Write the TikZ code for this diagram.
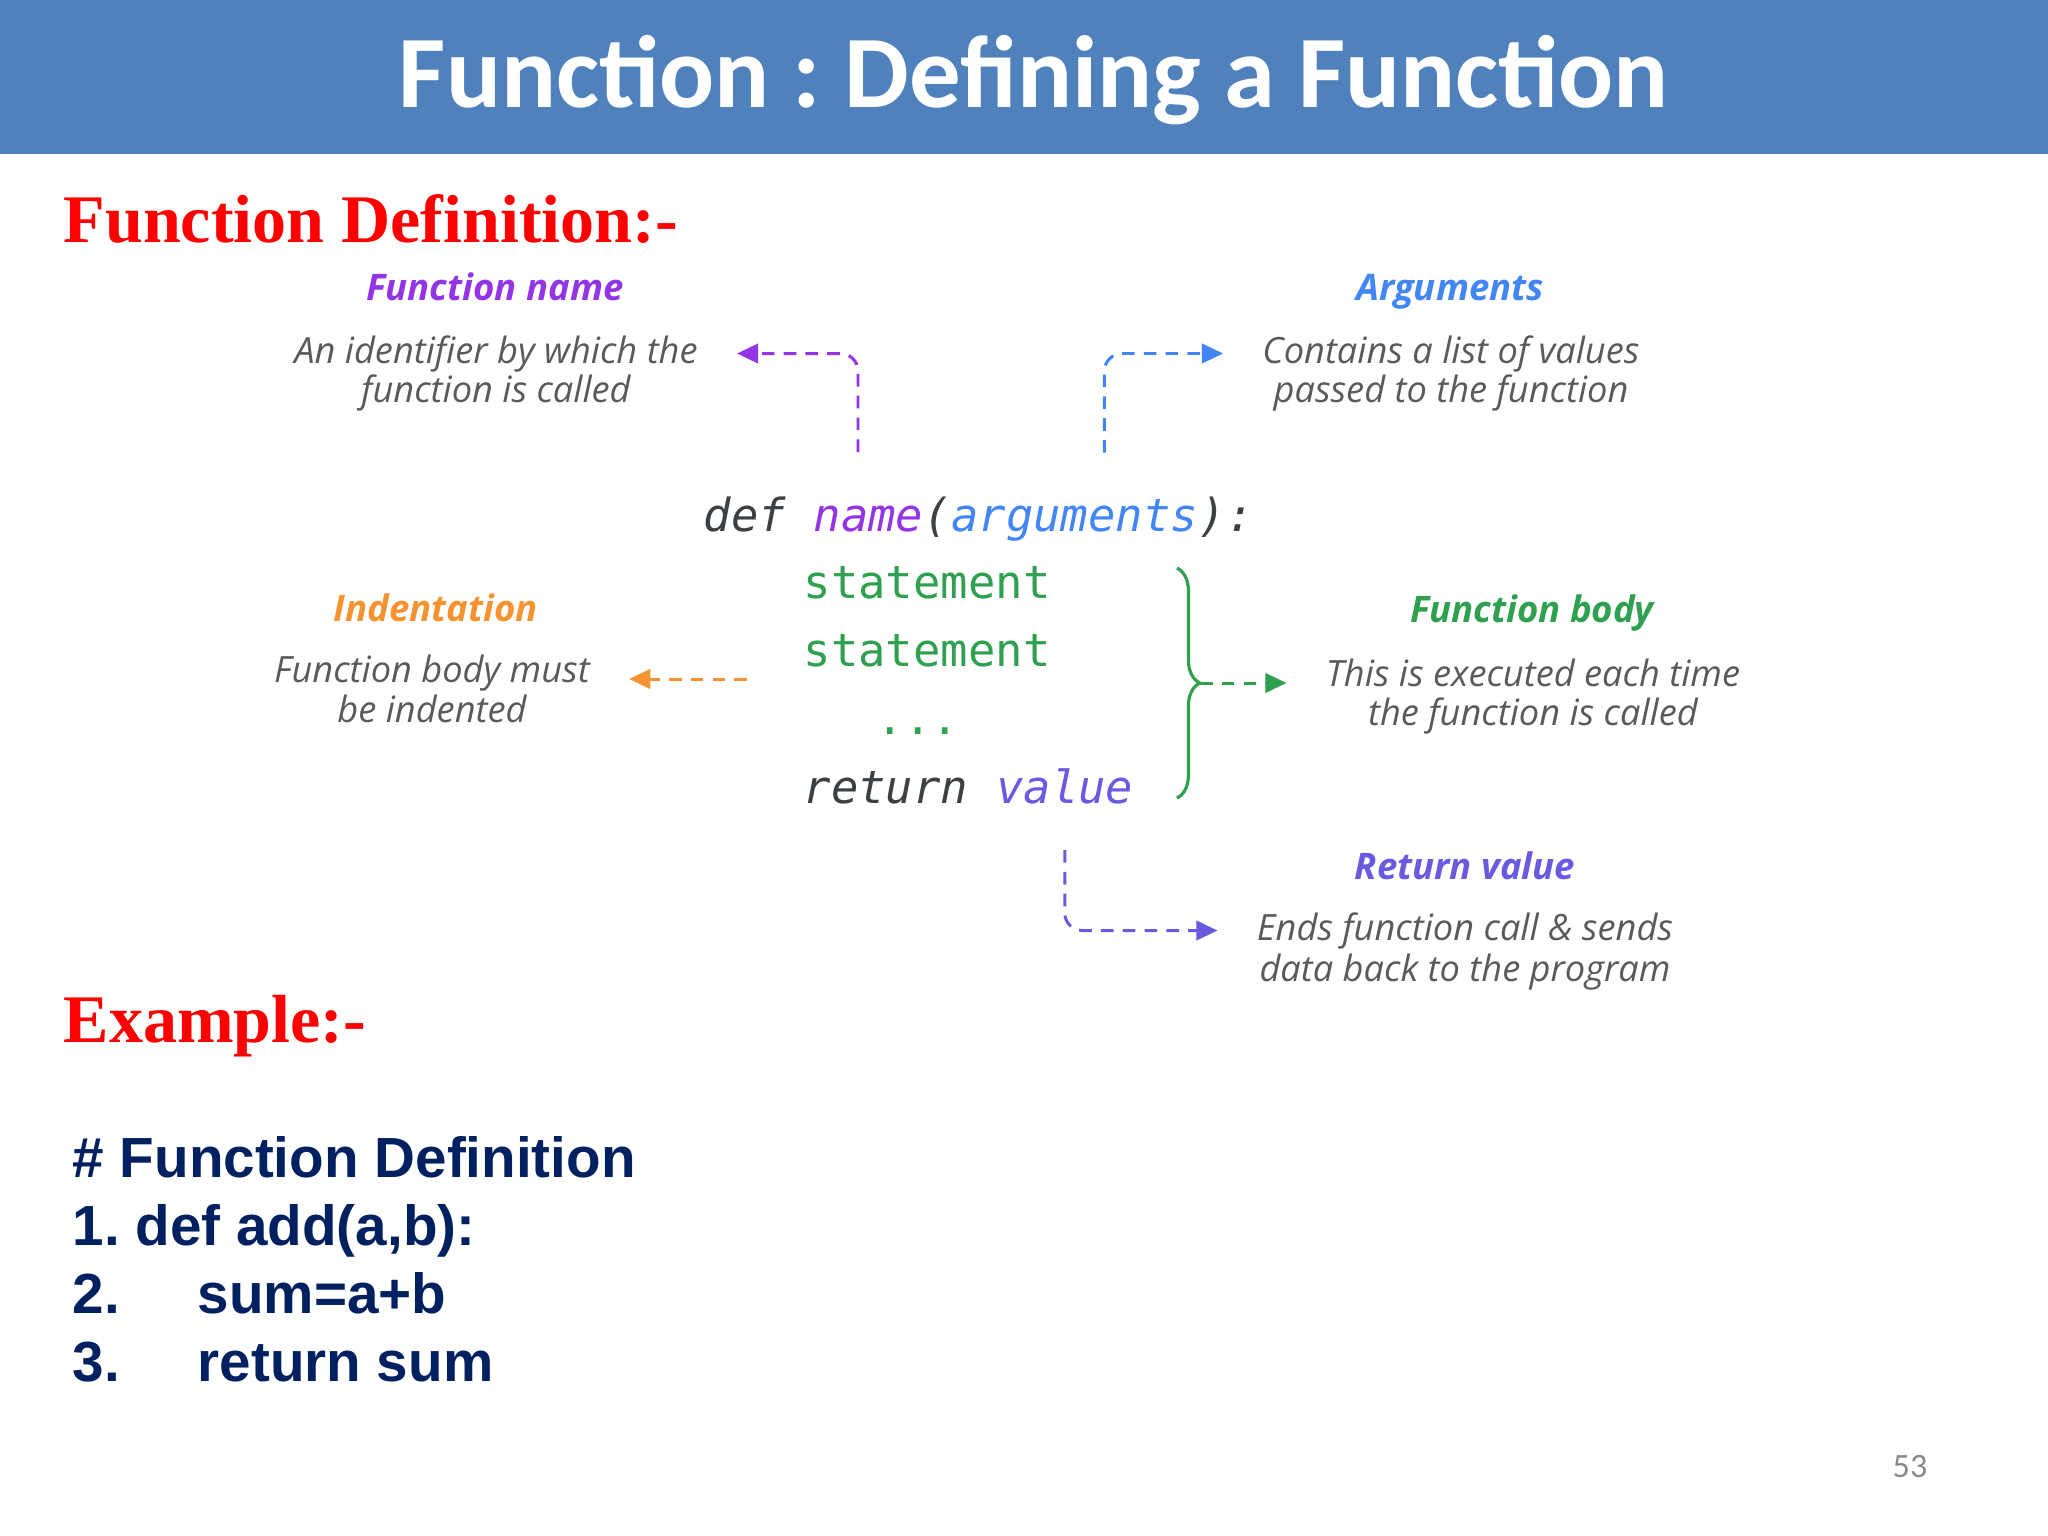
\documentclass[tikz,border=0pt]{standalone}
\usepackage{fontspec}
\setmainfont{Liberation Serif}
\newfontfamily\carlito{Carlito}
\newfontfamily\opensans{Open Sans}
\newfontfamily\arial{Liberation Sans}
\newfontfamily\mono{DejaVu Sans Mono}
\usetikzlibrary{arrows.meta,decorations.pathreplacing}
\frenchspacing

\definecolor{barra}{HTML}{4F81BD}
\definecolor{textogris}{HTML}{5A5A5A}
\definecolor{codgris}{HTML}{3C4043}
\definecolor{morado}{HTML}{9334E6}
\definecolor{azul}{HTML}{4285F4}
\definecolor{naranja}{HTML}{F59331}
\definecolor{verde}{HTML}{2EA04F}
\definecolor{violeta}{HTML}{6A5AE0}
\definecolor{azuloscuro}{HTML}{002060}
\definecolor{numgris}{HTML}{898989}

\begin{document}
\begin{tikzpicture}[x=0.01cm, y=-0.01cm,
    etiqueta/.style={font=\opensans\bfseries\itshape\fontsize{10.4}{12}\selectfont, anchor=base},
    descripcion/.style={font=\opensans\itshape\fontsize{10.3}{12}\selectfont, text=textogris, inner xsep=11pt, inner ysep=1pt, anchor=base},
    codigo/.style={font=\mono\fontsize{12.95}{15}\selectfont, inner sep=0pt, anchor=base west},
    codigocur/.style={codigo, font=\mono\itshape\fontsize{12.95}{15}\selectfont},
    flecha/.style={line width=0.85pt, dash pattern=on 3.6pt off 2.6pt, rounded corners=5pt, -{Triangle[length=6pt,width=5.5pt]}},
    ejemplo/.style={font=\arial\bfseries\fontsize{16.1}{19}\selectfont, text=azuloscuro, inner sep=0pt, anchor=base west},
    encabezado/.style={font=\bfseries\fontsize{19.35}{23}\selectfont, text=red, inner sep=0pt, anchor=base west}]
    \useasboundingbox (0,0) rectangle (2048,1536);

    % Barra del título
    \fill[barra] (0,0) rectangle (2048,154);
    \node[font=\carlito\bfseries\fontsize{29.2}{35}\selectfont, text=white, anchor=base] (titulo) at (1034,107) {Function : Defining a Function};

    % Encabezados
    \node[encabezado] (definicion) at (63,242) {Function Definition:-};
    \node[encabezado] (ejemplotit) at (63,1042) {Example:-};

    % Código
    \node[codigocur, text=codgris] (def) at (703,531) {def};
    \node[codigocur, text=morado] (nombre) at (813,531) {name};
    \node[codigocur, text=codgris] (parabre) at (923,531) {(};
    \node[codigocur, text=azul] (argumentos) at (950.5,531) {arguments};
    \node[codigocur, text=codgris] (parcierra) at (1198,531) {):};
    \node[codigo, text=verde] (sent1) at (803,598) {statement};
    \node[codigo, text=verde] (sent2) at (803,666) {statement};
    \node[codigo, text=verde] (puntos) at (876,734) {...};
    \node[codigocur, text=codgris] (ret) at (803,803) {return};
    \node[codigocur, text=violeta] (valor) at (995.5,803) {value};

    % Etiquetas
    \node[etiqueta, text=morado] (titnombre) at (495,300) {Function name};
    \node[descripcion] (descnombre1) at (496,363) {An identifier by which the};
    \node[descripcion] (descnombre2) at (496,402) {function is called};

    \node[etiqueta, text=azul] (titargs) at (1450,300) {Arguments};
    \node[descripcion] (descargs1) at (1451,363) {Contains a list of values};
    \node[descripcion] (descargs2) at (1451,402) {passed to the function};

    \node[etiqueta, text=naranja] (titindent) at (436,621) {Indentation};
    \node[descripcion] (descindent1) at (432,682) {Function body must};
    \node[descripcion] (descindent2) at (432,722) {be indented};

    \node[etiqueta, text=verde] (titcuerpo) at (1532,622) {Function body};
    \node[descripcion] (desccuerpo1) at (1533,686) {This is executed each time};
    \node[descripcion] (desccuerpo2) at (1533,725) {the function is called};

    \node[etiqueta, text=violeta] (titvalor) at (1465,879) {Return value};
    \node[descripcion] (descvalor1) at (1465,940) {Ends function call \& sends};
    \node[descripcion] (descvalor2) at (1465,981) {data back to the program};

    % Flechas
    \draw[flecha, morado] ([xshift=-3pt,yshift=15pt]nombre.north) |- (descnombre1.east);
    \draw[flecha, azul] ([xshift=8.5pt,yshift=13pt]argumentos.north) |- (descargs1.west);
    \coordinate (medio) at (747,679);
    \draw[flecha, naranja] (medio) -- (medio -| descindent1.east);
    \draw[verde, line width=0.9pt, decorate, decoration={brace, amplitude=6.5pt}] (1177,568) -- (1177,798);
    \coordinate (punta) at (1200,683);
    \draw[flecha, verde] (punta) -- (punta -| desccuerpo1.west);
    \draw[flecha, violeta] ([yshift=-13pt]valor.south) |- (descvalor1.west);

    % Ejemplo
    \node[ejemplo] (comentario) at (72,1177) {\# Function Definition};
    \node[ejemplo] (linea1) at (72,1245) {1. def add(a,b):};
    \node[ejemplo] (linea2) at (72,1313) {2.};
    \node[ejemplo] (linea2b) at (197,1313) {sum=a+b};
    \node[ejemplo] (linea3) at (72,1381) {3.};
    \node[ejemplo] (linea3b) at (197,1381) {return sum};

    % Número de página
    \node[font=\carlito\fontsize{9.7}{12}\selectfont, text=numgris, anchor=base west, inner sep=0pt] (pagina) at (1892,1477) {53};
\end{tikzpicture}
\end{document}
